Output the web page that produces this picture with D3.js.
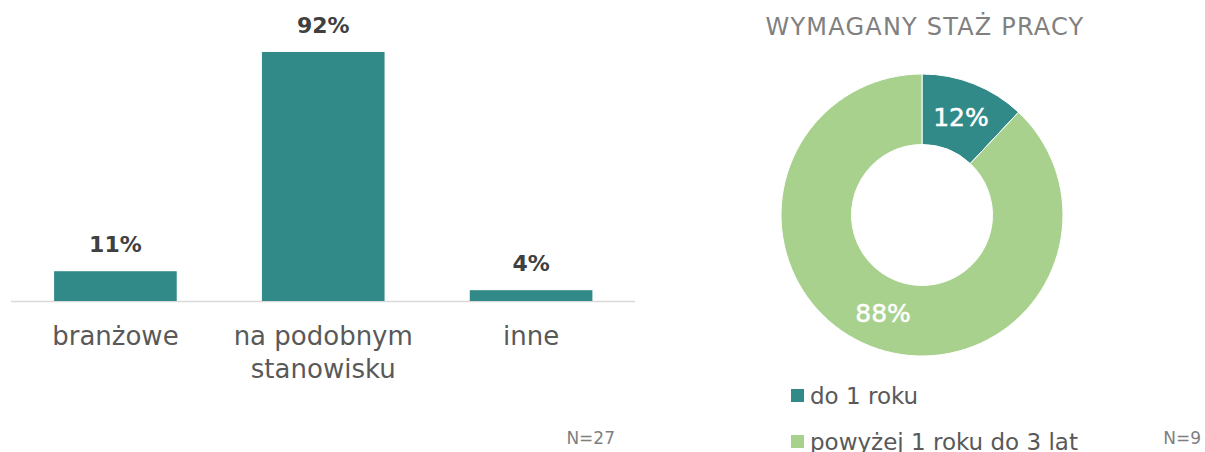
<!DOCTYPE html>
<html>
<head>
<meta charset="utf-8">
<script src="https://cdn.jsdelivr.net/npm/d3@7"></script>
<style>
  body { margin: 0; background: #fff; }
  text { font-family: "DejaVu Sans", sans-serif; }
</style>
</head>
<body>
<script>
// bar chart data (wymagane doświadczenie)
const barCats = ['branżowe', 'na podobnym stanowisku', 'inne']
const barLines = [['branżowe'], ['na podobnym', 'stanowisku'], ['inne']]
const barValues = [11, 92, 4]
const barN = 'N=27'

// donut data (wymagany staż pracy)
const donutTitle = 'WYMAGANY STAŻ PRACY'
const donutCats = ['do 1 roku', 'powyżej 1 roku do 3 lat']
const donutValues = [12, 88]
const donutN = 'N=9'

const teal = '#318a88'
const green = '#a9d18e'

const svg = d3.select(document.body).append('svg')
  .attr('width', 1205)
  .attr('height', 452)
  .attr('xmlns', 'http://www.w3.org/2000/svg')

// ---- bars
const x = d3.scaleBand().domain(barCats).range([11.5, 635]).paddingInner(0.41).paddingOuter(0.205)
const y = d3.scaleLinear().domain([0, 100]).range([301, 30.3])

const bars = svg.append('g')

bars.append('line')
  .attr('x1', 11).attr('x2', 635)
  .attr('y1', y(0) + 0.5).attr('y2', y(0) + 0.5)
  .attr('stroke', '#d9d9d9').attr('stroke-width', 1.5)

bars.selectAll('rect.bar')
  .data(barValues)
  .join('rect')
  .attr('class', 'bar')
  .attr('x', (d, i) => x(barCats[i]))
  .attr('y', d => y(d))
  .attr('width', x.bandwidth())
  .attr('height', d => y(0) - y(d))
  .attr('fill', teal)

bars.selectAll('text.val')
  .data(barValues)
  .join('text')
  .attr('class', 'val')
  .attr('x', (d, i) => x(barCats[i]) + x.bandwidth() / 2)
  .attr('y', d => y(d) - 19)
  .attr('text-anchor', 'middle')
  .attr('font-size', 22)
  .attr('font-weight', 'bold')
  .attr('fill', '#404040')
  .text(d => d + '%')

bars.selectAll('text.cat')
  .data(barLines)
  .join('text')
  .attr('class', 'cat')
  .attr('text-anchor', 'middle')
  .attr('font-size', 26)
  .attr('fill', '#595959')
  .each(function (lines, i) {
    d3.select(this).selectAll('tspan')
      .data(lines)
      .join('tspan')
      .attr('x', x(barCats[i]) + x.bandwidth() / 2)
      .attr('y', (l, j) => 345 + j * 33)
      .text(l => l)
  })

svg.append('text')
  .attr('x', 615).attr('y', 444)
  .attr('text-anchor', 'end')
  .attr('font-size', 17)
  .attr('fill', '#7f7f7f')
  .text(barN)

// ---- donut
const cx = 922, cy = 215, rOut = 141, rIn = 70.5

svg.append('text')
  .attr('x', 925).attr('y', 35)
  .attr('text-anchor', 'middle')
  .attr('font-size', 24)
  .attr('letter-spacing', 1.2)
  .attr('fill', '#808080')
  .text(donutTitle)

const pie = d3.pie().sort(null).value(d => d)
const arc = d3.arc().innerRadius(rIn).outerRadius(rOut)
const colour = d3.scaleOrdinal().domain(donutCats).range([teal, green])

const donut = svg.append('g').attr('transform', `translate(${cx},${cy})`)
const arcs = pie(donutValues)

donut.selectAll('path')
  .data(arcs)
  .join('path')
  .attr('d', arc)
  .attr('fill', (d, i) => colour(donutCats[i]))
  .attr('stroke', '#fff')
  .attr('stroke-width', 1)

donut.selectAll('text')
  .data(arcs)
  .join('text')
  .attr('transform', d => `translate(${arc.centroid(d)})`)
  .attr('dy', '0.36em')
  .attr('text-anchor', 'middle')
  .attr('font-size', 25)
  .attr('fill', '#fff')
  .attr('stroke', '#fff')
  .attr('stroke-width', 0.5)
  .text(d => d.value + '%')

const legend = svg.append('g')
legend.selectAll('rect')
  .data(donutCats)
  .join('rect')
  .attr('x', 791)
  .attr('y', (d, i) => 389 + i * 46)
  .attr('width', 13).attr('height', 13)
  .attr('fill', d => colour(d))
legend.selectAll('text')
  .data(donutCats)
  .join('text')
  .attr('x', 810)
  .attr('y', (d, i) => 404 + i * 46)
  .attr('font-size', 23)
  .attr('fill', '#595959')
  .text(d => d)

svg.append('text')
  .attr('x', 1201).attr('y', 444)
  .attr('text-anchor', 'end')
  .attr('font-size', 17)
  .attr('fill', '#7f7f7f')
  .text(donutN)
</script>
</body>
</html>
